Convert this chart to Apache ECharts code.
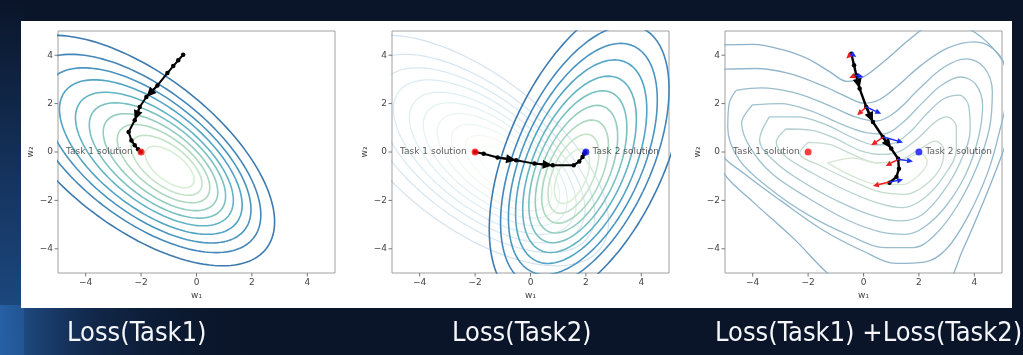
<!DOCTYPE html>
<html><head><meta charset="utf-8">
<script src="https://cdn.jsdelivr.net/npm/echarts@6/dist/echarts.min.js"></script>
<style>html,body{margin:0;padding:0;background:#0a1529;}#c{width:1023px;height:355px;}</style>
</head><body><div id="c"></div>
<script>
// ---------- tick labels ----------
const tickValues = [-4, -2, 0, 2, 4];
const panelTitles = ['Loss(Task1)', 'Loss(Task2)', 'Loss(Task1) +Loss(Task2)'];
const xAxisName = 'w\u2081';
const yAxisName = 'w\u2082';

// ---------- Task 1 loss contours (ellipses, outer -> inner) ----------
const t1CenterX = [-2.10, -1.91, -1.77, -1.65, -1.52, -1.41, -1.30, -1.19, -1.08, -0.97];
const t1CenterY = [0.06, -0.06, -0.14, -0.21, -0.29, -0.35, -0.42, -0.48, -0.55, -0.62];
const t1SemiMajor = [6.16, 5.30, 4.68, 4.13, 3.57, 3.08, 2.59, 2.09, 1.60, 1.11];
const t1SemiMinor = [2.99, 2.57, 2.27, 2.00, 1.73, 1.50, 1.26, 1.02, 0.78, 0.54];
const t1AngleDeg = -43.5;

// ---------- Task 2 loss contours (ellipses, outer -> inner) ----------
const t2CenterX = [2.05, 1.96, 1.89, 1.83, 1.77, 1.71, 1.66, 1.61, 1.55, 1.50];
const t2CenterY = [0.00, -0.17, -0.29, -0.40, -0.51, -0.61, -0.71, -0.81, -0.90, -1.00];
const t2SemiMajor = [6.60, 5.68, 5.02, 4.42, 3.83, 3.30, 2.77, 2.24, 1.72, 1.19];
const t2SemiMinor = [2.90, 2.49, 2.20, 1.94, 1.68, 1.45, 1.22, 0.99, 0.75, 0.52];
const t2AngleDeg = 70;

const levelColors = ['#3d7ab0', '#4487ba', '#4a95c0', '#52a4c4', '#62b3c4', '#79c1c1', '#93cdbe', '#acd8bf', '#c3e3c6', '#d8eed6'];

// ---------- Sum loss contours (read as polylines, outer -> inner) ----------
const sumContour1 = [[-5.6,4.4],[-4.0,4.45],[-3.0,4.25],[-2.0,3.85],[-1.2,3.3],[-0.6,2.92],[0.0,3.1],[0.8,3.8],[1.6,4.6],[2.3,5.2],[3.0,5.5],[3.8,5.1],[4.5,4.5],[5.1,3.6],[5.4,2.4],[5.3,1.0],[5.0,-0.1],[4.35,-2.0],[3.6,-4.0],[2.9,-5.6],[1.0,-6.6],[-1.0,-5.3],[-2.5,-3.6],[-4.0,-2.05],[-5.0,-0.95],[-5.6,0.5],[-5.8,2.5],[-5.6,4.4]];
const sumContour2 = [[-5.5,3.4],[-3.9,3.45],[-2.7,3.25],[-1.5,2.75],[-0.55,2.25],[0.0,2.02],[0.55,2.15],[1.25,2.75],[2.1,3.6],[3.05,4.3],[4.0,4.55],[4.7,4.25],[5.1,3.5],[5.15,2.3],[4.9,0.8],[4.5,-0.8],[3.8,-2.6],[3.0,-4.0],[2.2,-4.55],[1.2,-4.6],[0.0,-4.1],[-1.5,-3.2],[-3.0,-2.0],[-4.3,-0.9],[-5.2,0.0],[-5.7,1.8],[-5.5,3.4]];
const sumContour3 = [[-4.6,2.55],[-3.7,2.65],[-2.5,2.45],[-1.3,1.95],[-0.3,1.45],[0.45,1.28],[1.2,1.7],[2.0,2.6],[2.9,3.5],[3.7,3.85],[4.35,3.5],[4.65,2.5],[4.55,1.0],[4.1,-0.6],[3.4,-2.2],[2.6,-3.4],[1.8,-3.95],[0.8,-3.95],[-0.5,-3.45],[-2.0,-2.6],[-3.4,-1.5],[-4.5,-0.3],[-4.9,1.0],[-4.85,2.0],[-4.6,2.55]];
const sumContour4 = [[-4.0,1.95],[-3.0,2.0],[-1.9,1.7],[-0.8,1.15],[0.1,0.8],[0.75,0.75],[1.4,1.2],[2.1,2.0],[2.8,2.75],[3.5,3.1],[4.05,2.8],[4.3,1.9],[4.15,0.6],[3.7,-0.9],[3.0,-2.2],[2.2,-3.1],[1.5,-3.4],[0.6,-3.3],[-0.6,-2.8],[-2.0,-1.9],[-3.3,-0.9],[-4.1,0.2],[-4.4,1.2],[-4.0,1.95]];
const sumContour5 = [[-3.4,1.45],[-2.4,1.45],[-1.4,1.15],[-0.4,0.6],[0.4,0.3],[1.05,0.35],[1.7,0.85],[2.3,1.6],[2.9,2.2],[3.45,2.35],[3.8,1.9],[3.85,0.9],[3.5,-0.4],[2.9,-1.6],[2.1,-2.6],[1.3,-2.85],[0.4,-2.65],[-0.8,-2.1],[-2.1,-1.3],[-3.2,-0.4],[-3.75,0.5],[-3.4,1.45]];
const sumContour6 = [[-2.8,0.95],[-1.9,0.9],[-1.0,0.55],[-0.1,0.05],[0.7,-0.1],[1.35,0.05],[2.0,0.6],[2.6,1.25],[3.0,1.45],[3.35,1.05],[3.35,0.1],[2.9,-1.0],[2.2,-1.9],[1.4,-2.3],[0.5,-2.1],[-0.6,-1.6],[-1.8,-0.9],[-2.8,-0.2],[-3.15,0.4],[-2.8,0.95]];
const sumContour7 = [[-2.0,0.4],[-1.2,0.3],[-0.4,-0.1],[0.5,-0.45],[1.3,-0.35],[2.0,0.1],[2.6,0.45],[2.9,0.1],[2.8,-0.6],[2.3,-1.3],[1.5,-1.75],[0.6,-1.65],[-0.4,-1.2],[-1.5,-0.6],[-2.3,-0.05],[-2.0,0.4]];
const sumContour8 = [[-1.3,-0.45],[-0.4,-0.25],[0.5,-0.45],[1.4,-0.35],[2.05,-0.05],[2.3,-0.4],[2.0,-0.95],[1.4,-1.35],[0.6,-1.35],[-0.3,-1.05],[-1.3,-0.45]];
const sumContours = [sumContour1, sumContour2, sumContour3, sumContour4, sumContour5, sumContour6, sumContour7, sumContour8];
const sumColors = ['#8db2ca', '#92b7cc', '#98bccd', '#9fc2ce', '#a8c9cf', '#b5d2d0', '#c5dccf', '#d5e7d2'];

// ---------- optimisation paths ----------
const path1X = [-0.48, -0.66, -0.84, -1.05, -1.41, -1.81, -2.05, -2.23, -2.45, -2.35, -2.23, -2.11, -2.01];
const path1Y = [4.02, 3.79, 3.55, 3.26, 2.75, 2.27, 1.86, 1.31, 0.83, 0.48, 0.28, 0.11, 0.0];
const path1ArrowEnds = [5, 7];
const path2X = [-2.0, -1.69, -1.19, -0.52, 0.14, 0.80, 1.56, 1.76, 1.88, 1.94, 1.98];
const path2Y = [0.0, -0.07, -0.23, -0.34, -0.48, -0.55, -0.55, -0.39, -0.21, -0.07, 0.0];
const path2ArrowEnds = [3, 5];
const path3X = [-0.44, -0.34, -0.26, -0.14, 0.10, 0.34, 0.70, 1.00, 1.25, 1.28, 1.19, 0.94];
const path3Y = [4.06, 3.58, 3.17, 2.62, 1.86, 1.24, 0.62, 0.14, -0.28, -0.69, -1.03, -1.27];
const path3ArrowEnds = [3, 5, 7];

// gradient arrows in the sum panel
const gradBaseX = [-0.44, -0.28, 0.10, 0.72, 1.25, 0.94];
const gradBaseY = [4.06, 3.17, 1.86, 0.62, -0.30, -1.24];
const redTipX = [-0.62, -0.52, -0.23, 0.28, 0.80, 0.34];
const redTipY = [3.86, 3.06, 1.52, 0.28, -0.58, -1.40];
const blueTipX = [-0.26, 0.0, 0.64, 1.43, 1.79, 1.43];
const blueTipY = [3.93, 3.1, 1.58, 0.39, -0.39, -1.14];

// solutions
const task1Solution = [-2, 0];
const task2Solution = [2, 0];

// ---------- helpers ----------
function ellipse(cx, cy, a, b, deg) {
  const t = deg * Math.PI / 180, pts = [];
  for (let i = 0; i <= 160; i++) {
    const th = i / 160 * 2 * Math.PI;
    const p = a * Math.cos(th), q = b * Math.sin(th);
    pts.push([cx + p * Math.cos(t) - q * Math.sin(t), cy + p * Math.sin(t) + q * Math.cos(t)]);
  }
  return pts;
}
const zip = (xs, ys) => xs.map((x, i) => [x, ys[i]]);
const fmt = v => (v < 0 ? '\u2212' + Math.abs(v) : String(v));
const FONT = 'DejaVu Sans';
const AXIS_MIN = -5, AXIS_MAX = 5;

const series = [];
function contourSet(g, cxs, cys, as, bs, ang, opacity, width) {
  cxs.forEach((cx, i) => {
    series.push({
      type: 'line', xAxisIndex: g, yAxisIndex: g, showSymbol: false, silent: true,
      data: ellipse(cx, cys[i], as[i], bs[i], ang), clip: true, z: 2,
      lineStyle: { color: levelColors[i], width: width, opacity: opacity }
    });
  });
}
contourSet(0, t1CenterX, t1CenterY, t1SemiMajor, t1SemiMinor, t1AngleDeg, 1, 1.6);
contourSet(1, t1CenterX, t1CenterY, t1SemiMajor, t1SemiMinor, t1AngleDeg, 0.22, 1.2);
contourSet(1, t2CenterX, t2CenterY, t2SemiMajor, t2SemiMinor, t2AngleDeg, 1, 1.6);
sumContours.forEach((c, i) => {
  series.push({
    type: 'line', xAxisIndex: 2, yAxisIndex: 2, showSymbol: false, silent: true, smooth: 0.35,
    data: c, clip: true, z: 2, lineStyle: { color: sumColors[i], width: 1.3 }
  });
});

// arrows drawn as custom series: data rows [x1, y1, x2, y2]
function arrowSeries(g, rows, color, width, headLen, headHalf, z) {
  series.push({
    type: 'custom', xAxisIndex: g, yAxisIndex: g, z: z, silent: true,
    encode: { x: [0, 2], y: [1, 3] },
    data: rows,
    renderItem: function (params, api) {
      const p1 = api.coord([api.value(0), api.value(1)]);
      const p2 = api.coord([api.value(2), api.value(3)]);
      const dx = p2[0] - p1[0], dy = p2[1] - p1[1];
      const len = Math.sqrt(dx * dx + dy * dy) || 1;
      const ux = dx / len, uy = dy / len;
      const bx = p2[0] - ux * headLen, by = p2[1] - uy * headLen;
      return {
        type: 'group',
        children: [
          { type: 'line', shape: { x1: p1[0], y1: p1[1], x2: bx, y2: by },
            style: { stroke: color, lineWidth: width } },
          { type: 'polygon', shape: { points: [[p2[0], p2[1]], [bx - uy * headHalf, by + ux * headHalf], [bx + uy * headHalf, by - ux * headHalf]] },
            style: { fill: color } }
        ]
      };
    }
  });
}

function pathSeries(g, xs, ys, arrowEnds, width) {
  series.push({
    type: 'line', xAxisIndex: g, yAxisIndex: g, data: zip(xs, ys), symbol: 'circle', symbolSize: 4.5,
    itemStyle: { color: '#000' }, lineStyle: { color: '#000', width: width }, z: 5, clip: true
  });
  arrowSeries(g, arrowEnds.map(k => [xs[k - 1], ys[k - 1], xs[k], ys[k]]), '#000', width, 10, 4.5, 6);
}
pathSeries(0, path1X, path1Y, path1ArrowEnds, 2);
pathSeries(1, path2X, path2Y, path2ArrowEnds, 2);
pathSeries(2, path3X, path3Y, path3ArrowEnds, 2.4);

arrowSeries(2, gradBaseX.map((x, i) => [x, gradBaseY[i], redTipX[i], redTipY[i]]), '#ee1c1c', 1.4, 6, 2.8, 7);
arrowSeries(2, gradBaseX.map((x, i) => [x, gradBaseY[i], blueTipX[i], blueTipY[i]]), '#1c2cee', 1.4, 6, 2.8, 7);

function solution(g, pt, color, text, pos) {
  series.push({
    type: 'scatter', xAxisIndex: g, yAxisIndex: g, data: [pt], symbolSize: 7, z: 8,
    itemStyle: { color: color },
    label: { show: true, formatter: text, position: pos, distance: pos === 'left' ? 5 : 3,
      fontSize: 9, fontFamily: FONT, color: '#333' }
  });
}
solution(0, task1Solution, '#ff1010', 'Task 1 solution', 'left');
solution(1, task1Solution, '#ff1010', 'Task 1 solution', 'left');
solution(1, task2Solution, '#1010ff', 'Task 2 solution', 'right');
solution(2, task1Solution, '#ff1010', 'Task 1 solution', 'left');
solution(2, task2Solution, '#1010ff', 'Task 2 solution', 'right');

// tick marks and tick labels, placed through each grid's own scales
function tickSeries(g) {
  series.push({
    type: 'custom', xAxisIndex: g, yAxisIndex: g, z: 9, silent: true, clip: false,
    encode: { x: 0, y: 1 },
    data: tickValues.map(v => [v, v]),
    renderItem: function (params, api) {
      const v = api.value(0);
      const px = api.coord([v, AXIS_MIN]);
      const py = api.coord([AXIS_MIN, v]);
      return {
        type: 'group',
        children: [
          { type: 'line', shape: { x1: px[0], y1: px[1], x2: px[0], y2: px[1] + 3.5 }, style: { stroke: '#777', lineWidth: 1 } },
          { type: 'text', x: px[0], y: px[1] + 5, style: { text: fmt(v), fill: '#444', font: '9px "DejaVu Sans"', align: 'center', verticalAlign: 'top' } },
          { type: 'line', shape: { x1: py[0], y1: py[1], x2: py[0] - 3.5, y2: py[1] }, style: { stroke: '#777', lineWidth: 1 } },
          { type: 'text', x: py[0] - 5, y: py[1], style: { text: fmt(v), fill: '#444', font: '9px "DejaVu Sans"', align: 'right', verticalAlign: 'middle' } }
        ]
      };
    }
  });
}
[0, 1, 2].forEach(tickSeries);

const gridLefts = [58, 392, 725];
const gridW = 277, gridTop = 31, gridH = 242;
const grids = gridLefts.map(l => ({ left: l, top: gridTop, width: gridW, height: gridH, show: true,
  borderColor: '#a0a0a0', borderWidth: 1, backgroundColor: 'transparent' }));
function axisOpt(i) {
  return {
    gridIndex: i, type: 'value', min: AXIS_MIN, max: AXIS_MAX, show: false,
    axisLine: { show: false, onZero: false }, splitLine: { show: false },
    axisTick: { show: false }, axisLabel: { show: false }
  };
}
const xAxes = gridLefts.map((l, i) => axisOpt(i));
const yAxes = gridLefts.map((l, i) => axisOpt(i));

const titleX = [67, 452, 715];
const graphic = [
  { type: 'rect', z: -20, shape: { x: 0, y: 0, width: 1023, height: 355 }, style: { fill: '#0a1529' } },
  { type: 'rect', z: -19, shape: { x: 0, y: 0, width: 24, height: 355 },
    style: { fill: new echarts.graphic.LinearGradient(0, 0, 0, 1, [
      { offset: 0, color: '#0a1529' }, { offset: 0.5, color: '#15335e' }, { offset: 1, color: '#1e4f8a' }]) } },
  { type: 'rect', z: -19, shape: { x: 0, y: 305, width: 260, height: 50 },
    style: { fill: new echarts.graphic.LinearGradient(0, 0, 1, 0, [
      { offset: 0, color: 'rgba(40,100,170,0.85)' }, { offset: 0.35, color: 'rgba(25,60,110,0.5)' }, { offset: 1, color: 'rgba(10,21,41,0)' }]) } },
  { type: 'rect', z: -10, shape: { x: 21, y: 21, width: 991, height: 287 }, style: { fill: '#ffffff' } }
].concat(panelTitles.map((t, i) => ({
  type: 'text', z: 10, x: titleX[i], y: 334,
  style: { text: t, fill: '#f4f6fa', font: '27px "Liberation Sans Narrow", "DejaVu Sans Condensed", sans-serif',
    textAlign: 'left', textVerticalAlign: 'middle' }
}))).concat(gridLefts.map(l => ({
  type: 'text', z: 10, x: l + gridW / 2, y: gridTop + gridH + 23,
  style: { text: xAxisName, fill: '#444', font: '9px "DejaVu Sans"', textAlign: 'center', textVerticalAlign: 'middle' }
}))).concat(gridLefts.map(l => ({
  type: 'text', z: 10, x: l - 27, y: gridTop + gridH / 2, rotation: Math.PI / 2,
  style: { text: yAxisName, fill: '#444', font: '9px "DejaVu Sans"', textAlign: 'center', textVerticalAlign: 'middle' }
})));

const chart = echarts.init(document.getElementById('c'), null, { renderer: 'canvas' });
chart.setOption({
  animation: false,
  backgroundColor: '#0a1529',
  graphic: graphic,
  grid: grids,
  xAxis: xAxes,
  yAxis: yAxes,
  series: series
});
</script>
</body></html>
